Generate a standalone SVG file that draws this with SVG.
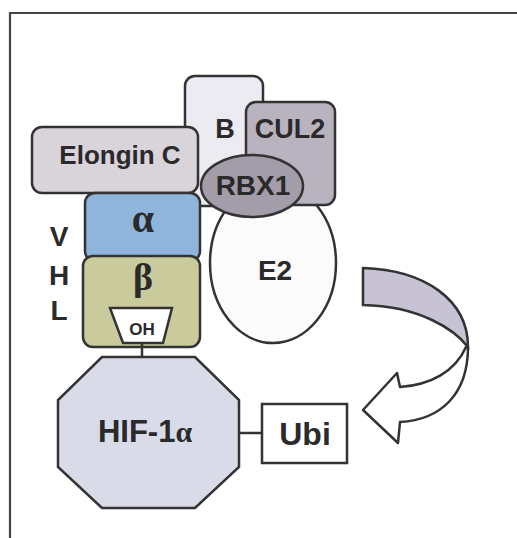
<svg xmlns="http://www.w3.org/2000/svg" width="517" height="538" viewBox="0 0 517 538">
<style>
.s{stroke:#333;stroke-width:2.5;}
.t{font-family:"Liberation Sans",Arial,sans-serif;font-weight:bold;fill:#2a2a2a;text-anchor:middle;}
.g{font-family:"Liberation Serif","Times New Roman",serif;font-weight:bold;fill:#2a2a2a;text-anchor:middle;}
</style>
<rect width="517" height="538" fill="#ffffff"/>
<path d="M10,540 L10,13 L520,13" fill="none" stroke="#444" stroke-width="2.2"/>
<g id="e2"><ellipse class="s" cx="273" cy="263" rx="63" ry="80" fill="#fbfbfb"/><text class="t" x="275" y="280" font-size="28">E2</text></g>
<g id="b"><rect class="s" x="185" y="76" width="78" height="130" rx="10" fill="#ecebf1"/><text class="t" x="225" y="138" font-size="27">B</text></g>
<g id="cul2"><rect class="s" x="246" y="102" width="89" height="103" rx="10" fill="#b8b3be"/><text class="t" x="290" y="138" font-size="27">CUL2</text></g>
<g id="elonginc"><rect class="s" x="32" y="127" width="166" height="66" rx="10" fill="#d9d3da"/><text class="t" x="120" y="164" font-size="26">Elongin C</text></g>
<g id="vhl">
<rect class="s" x="85" y="193" width="115" height="68" rx="10" fill="#8fb6da"/>
<text class="g" x="143" y="232" font-size="40">α</text>
<rect class="s" x="83" y="256" width="117" height="91" rx="10" fill="#c9cb9d"/>
<text class="g" x="143" y="290" font-size="38">β</text>
<text class="t" x="59" y="246" font-size="28">V</text>
<text class="t" x="59" y="285" font-size="28">H</text>
<text class="t" x="59" y="320" font-size="28">L</text>
</g>
<g id="oh"><polygon class="s" points="110,308 172,308 163,343 123,343" fill="#ffffff"/><text class="t" x="142" y="335" font-size="17">OH</text></g>
<g id="rbx1"><ellipse class="s" cx="252" cy="186" rx="51" ry="31" fill="#a29da8"/><text class="t" x="253" y="195" font-size="28">RBX1</text></g>
<g id="connectors">
<line class="s" x1="142" y1="343" x2="142" y2="357"/>
<line class="s" x1="239" y1="433" x2="262" y2="433"/>
</g>
<g id="hif"><polygon class="s" points="102,357 195,357 239,400 239,467 195,508 102,508 58,467 58,400" fill="#d9dbe9"/><text class="t" x="145" y="442" font-size="31">HIF-1<tspan class="g" font-size="30">α</tspan></text></g>
<g id="ubi"><rect class="s" x="262" y="404" width="85" height="59" fill="#ffffff"/><text class="t" x="305" y="445" font-size="32">Ubi</text></g>
<g id="arrow">
<path class="s" d="M363,268 C425,270 468,300 468,347 C455,330 420,306 363,305 Z" fill="#c8c3d4"/>
<path class="s" d="M468,347 C468,395 440,420 400,422 L398,443 L363,410 L397,373 L400,387 C430,385 455,372 466,347 Z" fill="#ffffff" stroke-linejoin="round"/>
</g>
</svg>
